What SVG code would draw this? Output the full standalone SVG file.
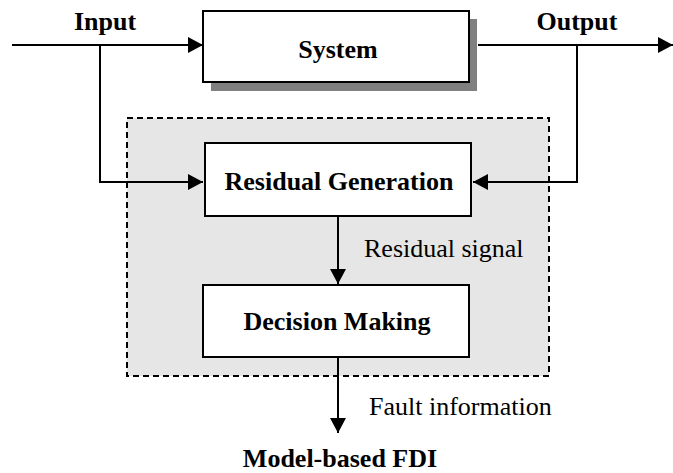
<svg xmlns="http://www.w3.org/2000/svg" width="673" height="473" viewBox="0 0 673 473">
  <style>
    .box { fill: #ffffff; stroke: #000000; stroke-width: 2; }
    .shadow { fill: #808080; }
    .wire { fill: none; stroke: #000000; stroke-width: 2; }
    .bold { font-family: "Liberation Serif", "Times New Roman", serif; font-weight: bold; font-size: 26px; fill: #000000; }
    .reg { font-family: "Liberation Serif", "Times New Roman", serif; font-size: 26px; fill: #000000; }
  </style>
  <defs>
    <marker id="arrow" viewBox="0 0 15 16" refX="15" refY="8" markerWidth="15" markerHeight="16" markerUnits="userSpaceOnUse" orient="auto">
      <path d="M0,0 L15,8 L0,16 Z" fill="#000000"/>
    </marker>
  </defs>

  <rect x="0" y="0" width="673" height="473" fill="#ffffff"/>

  <!-- FDI scheme boundary -->
  <g id="fdi-boundary">
    <rect x="127" y="118" width="422" height="258" fill="#e6e6e6" stroke="#000000" stroke-width="2" stroke-dasharray="6,4"/>
    <text class="bold" x="340" y="467" text-anchor="middle">Model-based FDI</text>
  </g>

  <!-- Connectors -->
  <g id="connectors">
    <line class="wire" x1="12" y1="45" x2="203" y2="45" marker-end="url(#arrow)"/>
    <polyline class="wire" points="100,45 100,182 203,182" marker-end="url(#arrow)"/>
    <line class="wire" x1="478" y1="45" x2="673" y2="45" marker-end="url(#arrow)"/>
    <polyline class="wire" points="577,45 577,182 473,182" marker-end="url(#arrow)"/>
    <line class="wire" x1="338" y1="216" x2="338" y2="284" marker-end="url(#arrow)"/>
    <line class="wire" x1="338" y1="357" x2="338" y2="433" marker-end="url(#arrow)"/>
    <text class="bold" x="105" y="30" text-anchor="middle">Input</text>
    <text class="bold" x="577" y="30" text-anchor="middle">Output</text>
    <text class="reg" x="364" y="257">Residual signal</text>
    <text class="reg" x="369" y="415">Fault information</text>
  </g>

  <!-- System block with drop shadow -->
  <g id="system">
    <rect class="shadow" x="211" y="19" width="266" height="72"/>
    <rect class="box" x="203" y="11" width="266" height="71"/>
    <text class="bold" x="338" y="58" text-anchor="middle" font-size="29">System</text>
  </g>

  <g id="residual-generation">
    <rect class="box" x="205" y="143" width="266" height="73"/>
    <text class="bold" x="339" y="190" text-anchor="middle">Residual Generation</text>
  </g>

  <g id="decision-making">
    <rect class="box" x="203" y="285" width="266" height="72"/>
    <text class="bold" x="337" y="330" text-anchor="middle">Decision Making</text>
  </g>
</svg>
